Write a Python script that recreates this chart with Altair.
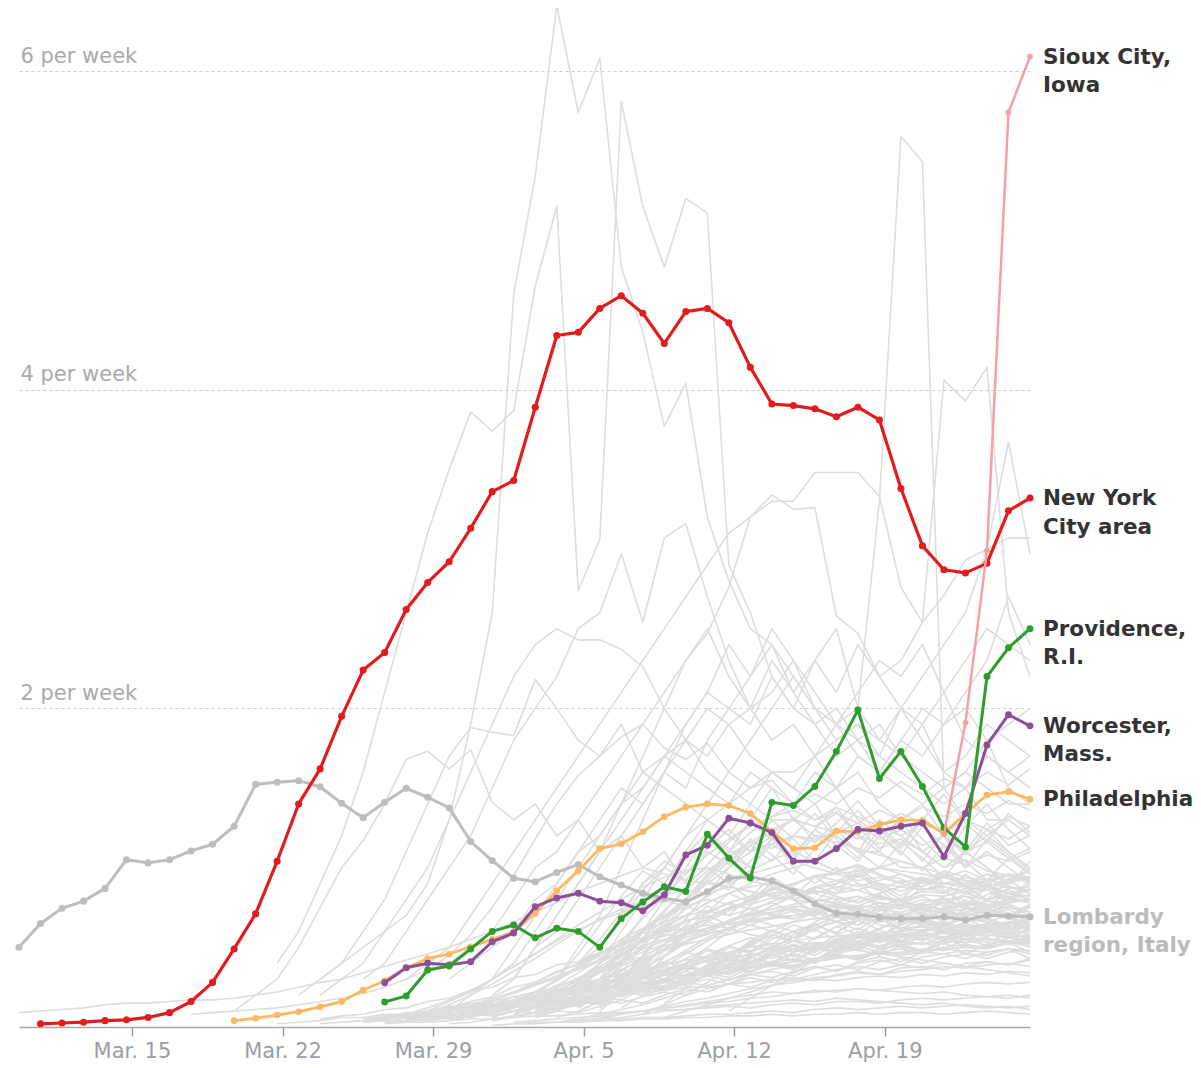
import altair as alt
import pandas as pd

# ---------------- data (all series end on the last day, Apr. 25 = day 47) -------------
LAST_DAY = 47
tick_days = [5.25, 12.25, 19.25, 26.25, 33.25, 40.25]
tick_labels = ["Mar. 15", "Mar. 22", "Mar. 29", "Apr. 5", "Apr. 12", "Apr. 19"]
grid_values = [2, 4, 6]

nyc = [0.02, 0.025, 0.03, 0.04, 0.045, 0.06, 0.09, 0.16, 0.28, 0.49,
       0.71, 1.04, 1.40, 1.62, 1.95, 2.24, 2.35, 2.62, 2.79, 2.92,
       3.13, 3.36, 3.43, 3.89, 4.34, 4.36, 4.51, 4.59, 4.48, 4.29,
       4.49, 4.51, 4.42, 4.14, 3.91, 3.90, 3.88, 3.83, 3.89, 3.81,
       3.38, 3.02, 2.87, 2.85, 2.91, 3.24, 3.32]
lombardy = [0.50, 0.65, 0.745, 0.79, 0.87, 1.05, 1.03, 1.05, 1.105, 1.147,
            1.26, 1.523, 1.536, 1.546, 1.508, 1.404, 1.314, 1.41, 1.498, 1.442,
            1.375, 1.164, 1.045, 0.933, 0.912, 0.97, 1.02, 0.943, 0.891, 0.839,
            0.808, 0.786, 0.849, 0.933, 0.943, 0.916, 0.854, 0.772, 0.714, 0.707,
            0.688, 0.68, 0.68, 0.692, 0.672, 0.701, 0.697, 0.692]
philadelphia = [0.04, 0.055, 0.075, 0.096, 0.127, 0.159, 0.232, 0.29, 0.37, 0.43,
                0.458, 0.504, 0.55, 0.598, 0.714, 0.855, 0.98, 1.12, 1.15, 1.226,
                1.32, 1.38, 1.40, 1.39, 1.34, 1.226, 1.12, 1.125, 1.23, 1.226,
                1.27, 1.30, 1.295, 1.216, 1.34, 1.456, 1.477, 1.43]
worcester = [0.278, 0.372, 0.40, 0.39, 0.41, 0.535, 0.59, 0.755, 0.81, 0.84,
             0.79, 0.78, 0.73, 0.83, 1.08, 1.14, 1.31, 1.28, 1.22, 1.04,
             1.04, 1.12, 1.24, 1.23, 1.26, 1.28, 1.07, 1.34, 1.77, 1.96, 1.89]
providence = [0.157, 0.195, 0.358, 0.383, 0.49, 0.60, 0.64, 0.56, 0.62, 0.60,
              0.50, 0.68, 0.785, 0.88, 0.85, 1.21, 1.06, 0.935, 1.41, 1.39,
              1.51, 1.73, 1.99, 1.56, 1.73, 1.51, 1.25, 1.13, 2.20, 2.38, 2.50]
sioux_city = [1.21, 1.91, 2.99, 5.74, 6.09]

# other metro areas (values in hundredths of a death per week, last value = Apr. 25)
gray_lines = [
    [30, 40, 50, 60, 70, 90, 130, 190, 260, 460, 534, 641, 574, 608, 477, 436, 377, 404, 320, 280,
     250, 240, 220, 200, 190, 180, 190, 170, 160, 150, 160, 150, 140, 140],
    [40, 60, 90, 120, 160, 210, 260, 310, 350, 386, 374, 387, 465, 515, 274, 306, 581, 515, 477, 520,
     511, 290, 260, 220, 200, 190, 200, 180, 170, 160, 150, 140, 150, 130, 130, 120],
    [30, 40, 50, 60, 80, 90, 110, 120, 140, 150, 170, 190, 210, 200, 220, 240, 210, 230, 250, 200,
     330, 559, 543, 150, 160, 180, 150, 140],
    [50, 60, 80, 100, 120, 140, 160, 150, 180, 200, 190, 220, 200, 230, 210, 240, 220, 230, 254, 406,
     393, 414, 260, 220],
    [40, 50, 70, 90, 100, 120, 130, 140, 150, 160, 160, 170, 180, 190, 180, 200, 220, 240, 260, 300,
     367, 297],
    [30, 40, 50, 70, 90, 110, 130, 150, 170, 190, 210, 230, 250, 270, 290, 310, 320, 330, 330, 348,
     348, 348, 333, 276, 254, 271, 293, 300, 307, 307],
    [40, 50, 60, 80, 100, 110, 130, 150, 170, 190, 210, 230, 247, 276, 320, 334, 325, 326, 258, 247,
     220, 200, 190, 210, 180, 170, 160, 170],
    [30, 40, 60, 80, 100, 120, 150, 180, 200, 220, 250, 260, 297, 254, 307, 316, 270, 230, 200, 180,
     190, 170, 150, 160, 140, 130, 140, 120, 110, 120, 110, 100],
    [20, 30, 40, 60, 80, 100, 130, 160, 190, 220, 240, 250, 243, 243, 237, 226, 200, 180, 160, 150,
     140, 130, 130, 120, 120, 110, 110, 100, 100, 90, 90, 90, 80, 80],
    [20, 30, 40, 60, 80, 110, 140, 170, 188, 185, 183, 218, 200, 180, 170, 190, 160, 150, 140, 130,
     120, 110, 120, 100, 90, 100, 90, 80, 80, 70, 70, 80, 70, 60, 70],
    [9, 10, 11, 12, 14, 15, 15, 16, 17, 17, 18, 20, 22, 25, 28, 30, 34, 38, 42, 46,
     50, 55, 60, 66, 72, 78, 85, 90, 95, 100, 96, 92, 90, 88, 85, 82, 80, 78, 75, 73,
     70, 68, 66, 64, 62, 60, 58, 56],
    [10, 20, 30, 50, 75, 100, 117, 140, 168, 173, 162, 174, 141, 130, 140, 120, 130, 110, 120, 100,
     110, 90, 100, 90, 80, 90, 80, 70, 80, 70, 70, 60, 70, 60, 60, 50, 60, 50],
    [8, 9, 10, 11, 12, 14, 16, 18, 21, 25, 30, 36, 45, 58, 75, 95, 118, 140, 158, 170,
     182, 190, 175, 168, 178, 160, 150, 155, 140, 130, 135, 120, 115, 118, 110, 100, 105, 98, 95, 92],
    [20, 30, 50, 70, 90, 110, 140, 170, 200, 230, 250, 220, 200, 230, 210, 190, 170, 180, 160, 150,
     140, 150, 130, 120, 130, 120],
    [20, 30, 50, 70, 100, 130, 160, 190, 210, 240, 220, 250, 230, 210, 190, 200, 180, 170, 190, 160,
     150, 170, 160, 150],
    [10, 20, 30, 50, 70, 90, 110, 130, 150, 140, 160, 180, 170, 190, 200, 210, 230, 200, 180, 190,
     170, 200, 180, 160, 170, 190, 180, 170],
    [20, 40, 60, 80, 100, 120, 140, 160, 180, 200, 220, 200, 190, 210, 230, 220, 240, 210, 230, 250,
     240, 230],
    [10, 20, 30, 50, 70, 90, 110, 130, 120, 140, 160, 150, 170, 190, 170, 160, 180, 200, 190, 210,
     230, 270, 240],
    [30, 50, 70, 90, 110, 130, 150, 170, 180, 200, 190, 170, 160, 150, 140, 150, 130, 120, 130, 110,
     100, 110, 100, 90, 100],
    [30, 40, 60, 80, 100, 120, 110, 130, 150, 140, 160, 150, 170, 160, 180, 170, 190, 200, 180, 190, 200],
    [20, 30, 40, 60, 80, 100, 120, 140, 160, 170, 160, 150, 140, 160, 150, 130, 140, 120, 110, 130,
     120, 110, 120, 100, 110, 100, 90],
    # lower, denser band
    [5, 7, 8, 11, 12, 16, 18, 23, 25, 31, 33, 39, 41, 47, 49, 55, 57, 61, 60, 65,
     64, 69, 68, 73, 69, 67, 71, 70, 75, 71, 69, 73, 75, 72],
    [4, 6, 7, 10, 12, 16, 19, 25, 28, 35, 39, 47, 51, 59, 61, 67, 69, 75, 77, 81,
     80, 85, 84, 86, 81, 79, 83, 82, 87, 86, 88, 84],
    [3, 5, 8, 10, 14, 17, 22, 25, 31, 34, 41, 44, 51, 53, 59, 61, 67, 69, 73, 72,
     77, 76, 81, 80, 85, 84, 89, 88, 93, 94],
    [3, 4, 6, 6, 9, 10, 13, 14, 17, 18, 22, 23, 28, 29, 34, 35, 40, 41, 45, 45,
     49, 49, 53, 53, 56, 55, 58, 57, 60, 59, 62, 61, 63],
    [5, 9, 12, 17, 20, 26, 30, 37, 41, 49, 54, 63, 67, 75, 79, 87, 89, 95, 97, 101,
     95, 93, 87, 85, 79, 77, 71, 70],
    [2, 3, 4, 6, 6, 8, 8, 10, 11, 12, 13, 15, 15, 17, 18, 20, 20, 22, 23, 25,
     25, 27, 28, 30, 29, 31, 32, 34, 33, 35, 36, 38, 37, 39, 40, 38],
    [10, 15, 22, 30, 38, 46, 55, 62, 70, 78, 85, 92, 98, 105, 110, 104, 98, 102, 96, 90,
     94, 88, 85, 89, 84, 80],
    [8, 14, 20, 28, 35, 44, 52, 60, 68, 74, 80, 86, 90, 95, 92, 88, 92, 96, 90, 94, 98, 92, 95, 90],
    [4, 6, 9, 12, 16, 20, 25, 30, 34, 39, 43, 48, 52, 55, 58, 61, 63, 66, 68, 70,
     68, 66, 69, 67, 65, 68, 66, 64, 66],
    [6, 9, 13, 18, 23, 29, 35, 41, 47, 52, 58, 62, 66, 70, 72, 74, 72, 76, 74, 78,
     76, 80, 78, 82, 80, 84, 82],
    [3, 4, 6, 8, 10, 13, 16, 19, 23, 26, 30, 33, 36, 39, 42, 44, 46, 48, 50, 49,
     51, 50, 52, 51, 53, 52, 54, 53, 55, 54, 56],
    [6, 10, 16, 22, 30, 38, 46, 54, 62, 70, 76, 82, 88, 92, 96, 100, 104, 100, 106, 102, 108, 104, 110],
    [8, 12, 18, 24, 30, 36, 42, 48, 54, 58, 62, 66, 68, 70, 72, 74, 76, 75, 77, 76, 78, 77, 79, 78, 80],
    [2, 3, 5, 7, 9, 11, 14, 17, 20, 23, 26, 29, 32, 35, 37, 39, 41, 43, 45, 44,
     46, 45, 47, 46, 48, 47, 49, 48],
    [10, 16, 24, 32, 40, 48, 56, 62, 68, 72, 76, 74, 78, 72, 76, 70, 74, 68, 72, 66, 70, 64],
    [12, 20, 30, 40, 50, 60, 68, 76, 82, 88, 84, 90, 86, 92, 88, 94, 90, 96, 92, 98],
    [5, 7, 10, 13, 17, 21, 26, 31, 36, 41, 46, 51, 55, 59, 62, 65, 67, 69, 70, 72,
     69, 70, 66, 68, 64, 66, 62, 65, 61, 63],
    [4, 6, 9, 13, 17, 22, 27, 32, 36, 40, 44, 47, 50, 52, 54, 56, 57, 58, 59, 60, 61, 60, 62, 61, 63, 62],
    [15, 22, 30, 38, 46, 54, 62, 70, 78, 84, 90, 96, 100, 104, 98, 94, 100, 96, 92, 98, 94, 90, 96, 92],
    [2, 3, 4, 5, 7, 8, 10, 11, 14, 15, 18, 19, 22, 23, 26, 27, 30, 31, 34, 35,
     38, 38, 41, 41, 44, 44, 47, 46, 49, 48, 51, 50, 53, 52],
    [20, 28, 37, 44, 53, 60, 67, 72, 79, 82, 87, 90, 95, 89, 85, 91, 95, 88, 86, 92, 93],
    [15, 24, 34, 44, 52, 60, 66, 72, 76, 80, 84, 88, 86, 90, 88, 92, 90, 94],
    [3, 5, 8, 11, 14, 18, 22, 26, 30, 33, 36, 39, 41, 43, 45, 46, 47, 48, 49, 50, 51, 52, 53],
    [8, 14, 20, 28, 36, 44, 50, 56, 62, 66, 70, 74, 72, 76, 74, 78, 76, 80, 78],
    [10, 18, 26, 34, 42, 50, 56, 62, 66, 70, 72, 74, 76, 78, 80],
    [8, 12, 16, 22, 28, 34, 40, 46, 52, 56, 60, 62, 64, 62, 58, 56, 54, 52, 50, 48,
     46, 44, 42, 40, 38, 36, 34, 32],
    [3, 4, 6, 8, 11, 14, 18, 22, 27, 32, 37, 42, 48, 54, 60, 66, 72, 78, 82, 86,
     90, 94, 96, 98, 100, 98, 96, 94, 92, 90, 88, 86],
    [30, 40, 50, 60, 70, 80, 90, 100, 110, 115, 120, 118, 116, 112, 108, 104, 100, 96, 92, 88, 84, 80],
    [4, 6, 9, 8, 12, 15, 14, 19, 22, 21, 27, 30, 29, 35, 38, 36, 42, 45, 43, 49, 51, 48, 54, 57, 53,
     58, 60, 56, 61, 63, 59, 64],
    [6, 9, 8, 13, 17, 15, 21, 26, 24, 31, 35, 32, 39, 44, 41, 47, 52, 48, 55, 58, 54, 61, 63, 59, 65,
     62, 66, 64],
    [10, 14, 13, 19, 24, 22, 29, 33, 30, 37, 42, 38, 45, 49, 44, 51, 55, 50, 56, 59, 54, 60, 57, 62,
     58, 61],
    [3, 5, 4, 7, 9, 8, 11, 14, 12, 16, 19, 17, 22, 25, 23, 27, 30, 27, 33, 35, 32, 37, 39, 36, 41,
     43, 40, 44, 46, 43, 47, 48],
    [12, 18, 16, 24, 30, 27, 35, 41, 37, 45, 51, 46, 55, 60, 55, 63, 67, 61, 70, 72, 66, 74, 75, 70, 77],
    [8, 11, 10, 15, 19, 17, 23, 27, 24, 30, 35, 31, 38, 42, 39, 45, 49, 45, 52, 54, 50, 57, 58, 54,
     60, 61, 57, 62],
    [20, 26, 24, 32, 38, 35, 43, 49, 45, 53, 58, 54, 62, 66, 61, 69, 72, 67, 74, 76, 71, 78, 80],
    [5, 8, 7, 11, 15, 13, 18, 23, 20, 26, 30, 27, 33, 37, 34, 40, 44, 40, 47, 50, 46, 52, 55, 51, 57,
     59, 55, 60, 62, 58],
    [15, 21, 19, 27, 33, 30, 38, 44, 40, 48, 54, 49, 58, 62, 57, 65, 69, 63, 72, 74, 69, 76],
    [9, 13, 12, 17, 22, 20, 26, 31, 28, 34, 39, 35, 42, 46, 43, 49, 53, 49, 56, 58, 54, 61, 62, 58,
     64, 65, 61],
    [25, 33, 30, 40, 48, 44, 54, 61, 56, 66, 72, 67, 76, 80, 74, 82, 85, 79, 87, 88],
    [4, 7, 6, 10, 13, 12, 16, 20, 18, 23, 27, 25, 30, 34, 31, 37, 40, 37, 43, 46, 42, 49, 51, 47, 53,
     55, 51, 56, 58],
    [7, 10, 9, 14, 18, 16, 21, 25, 23, 28, 32, 29, 35, 39, 36, 42, 46, 43, 49, 52, 48, 55, 57, 53,
     59, 60],
    [18, 24, 22, 30, 36, 33, 41, 47, 43, 51, 56, 52, 60, 64, 59, 67, 70, 65, 72, 74, 69, 75, 77, 72],
    [3, 4, 4, 6, 8, 7, 10, 12, 11, 14, 17, 15, 19, 22, 20, 24, 27, 25, 29, 31, 29, 33, 35, 33, 37,
     38, 36, 40, 41, 39, 43],
    [30, 38, 35, 45, 52, 48, 58, 64, 59, 69, 74, 68, 78, 81, 75, 83, 86, 80],
    [11, 16, 14, 21, 26, 24, 31, 36, 33, 40, 45, 41, 48, 52, 48, 55, 59, 55, 62, 64, 60, 66, 68],
    [6, 9, 8, 12, 16, 14, 19, 23, 21, 26, 30, 27, 33, 37, 34, 40, 43, 40, 46, 49, 45, 51, 53, 49,
     55, 56, 52, 57],
    [22, 28, 26, 34, 40, 37, 45, 51, 47, 55, 60, 56, 64, 68, 63, 70, 73, 68, 75],
    [8, 12, 11, 16, 21, 19, 25, 30, 27, 33, 38, 34, 41, 45, 42, 48, 51, 47, 54, 56, 52, 58, 60, 56, 61],
    [5, 7, 7, 10, 13, 12, 16, 19, 17, 21, 25, 23, 27, 31, 28, 33, 36, 33, 38, 41, 38, 43, 45, 42,
     47, 49, 46, 50, 52, 49, 53, 54],
    [14, 19, 17, 24, 29, 27, 33, 38, 35, 41, 46, 42, 49, 53, 49, 56, 59, 55, 61, 63, 59, 64],
    [35, 44, 41, 51, 58, 54, 64, 69, 64, 73, 77, 71, 80, 82, 76, 84, 86],
    [10, 15, 13, 20, 25, 23, 30, 35, 32, 39, 44, 40, 47, 51, 47, 54, 57, 53, 60, 62, 58, 64, 66, 62],
    [4, 6, 5, 8, 11, 10, 13, 16, 14, 18, 22, 20, 24, 28, 26, 30, 33, 31, 35, 38, 35, 40, 42, 39, 44,
     46, 43, 47, 49, 46],
    [16, 22, 20, 27, 33, 30, 37, 43, 39, 46, 51, 47, 54, 58, 54, 61, 64, 60, 66, 68, 64, 70],
    [28, 36, 34, 43, 51, 47, 56, 63, 58, 67, 72, 67, 75, 79, 74, 81, 83],
    [12, 17, 15, 22, 27, 25, 32, 37, 34, 41, 46, 42, 49, 53, 49, 56, 59, 55, 62, 63, 59, 65, 66],
    [7, 10, 9, 13, 17, 15, 20, 24, 22, 27, 31, 28, 34, 38, 35, 41, 44, 41, 47, 50, 46, 52, 54, 50],
    [40, 50, 47, 57, 64, 60, 70, 75, 70, 78, 82, 76, 84, 86, 80, 87],
    [2, 3, 3, 4, 5, 5, 6, 7, 7, 8, 9, 9, 10, 11, 11, 12, 13, 12, 14, 15, 14, 16, 16, 15, 17, 18, 17,
     18, 19, 18, 20],
    [3, 4, 5, 6, 7, 9, 10, 12, 13, 15, 16, 18, 19, 21, 22, 23, 24, 23, 25, 26, 25, 27, 28, 27, 28],
    [5, 8, 10, 13, 16, 18, 21, 24, 26, 28, 30, 29, 31, 32, 31, 33, 32, 34, 33, 35, 34],
    [6, 10, 14, 18, 22, 26, 30, 33, 36, 38, 36, 39, 37, 40, 38, 41, 39, 42],
    [2, 3, 3, 4, 4, 5, 6, 6, 7, 8, 8, 9, 10, 9, 11, 12, 11, 12, 13, 12, 13, 14, 13, 12, 13],
    [1, 2, 2, 3, 3, 4, 4, 5, 5, 6, 6, 7, 7, 8, 7, 8, 8, 9, 8, 9, 9, 8, 9, 10, 9, 8],
    [3, 5, 6, 8, 10, 11, 13, 14, 15, 16, 17, 16, 18, 17, 16, 15, 14, 15, 13, 12, 13, 11],
    [4, 6, 8, 10, 12, 14, 16, 18, 20, 22, 21, 23, 22, 24, 23, 22, 21, 22, 20, 19, 20, 18],
    [5, 10, 16, 22, 30, 38, 46, 55, 64, 72, 80, 88, 94, 98, 100, 96, 92, 88, 84, 80, 77, 74, 71, 68,
     65, 62, 60, 58, 56, 54],
    [8, 14, 20, 28, 36, 45, 54, 63, 70, 78, 84, 88, 90, 87, 84, 80, 82, 78, 75, 77, 73, 70, 72, 68, 66],
    [10, 18, 26, 35, 44, 54, 64, 74, 82, 90, 96, 100, 104, 100, 96, 92, 94, 90, 86, 88, 84, 80, 82, 78],
    [6, 10, 15, 21, 27, 34, 42, 50, 58, 66, 72, 78, 82, 84, 86, 84, 88, 86, 90, 88, 92, 90, 94, 92,
     96, 94],
    [5, 9, 14, 20, 27, 35, 43, 52, 60, 68, 74, 79, 83, 86, 84, 88, 85, 82, 86, 80, 78, 82, 76, 74, 78,
     72, 70, 74, 68, 66],
    [4, 7, 11, 16, 22, 29, 37, 45, 53, 60, 66, 70, 73, 70, 74, 71, 68, 72, 66, 64, 68, 62, 60, 64, 58,
     57, 60, 55],
    [8, 13, 19, 26, 34, 43, 52, 61, 69, 76, 71, 78, 74, 70, 75, 69, 66, 71, 64, 62, 67, 60, 58, 63,
     56, 55],
    [6, 10, 15, 21, 28, 36, 45, 54, 62, 58, 64, 60, 56, 61, 55, 52, 57, 50, 48, 53, 46, 45, 49, 43],
    [10, 16, 23, 31, 40, 49, 58, 66, 73, 79, 84, 80, 86, 82, 78, 83, 76, 73, 78, 71, 69, 74, 67],
    [3, 5, 8, 12, 17, 23, 30, 38, 46, 54, 61, 67, 72, 76, 79, 76, 80, 77, 74, 78, 72, 70, 74, 68, 67,
     71, 65, 64, 68, 62, 61, 64],
    [12, 20, 29, 39, 49, 58, 66, 62, 68, 64, 60, 65, 58, 56, 61, 54, 52, 57, 50, 49, 53, 47],
    [7, 12, 18, 25, 33, 41, 49, 56, 62, 67, 71, 74, 77, 79, 81, 78, 82, 79, 76, 80, 74, 72, 76, 70],
    [20, 34, 48, 60, 72, 84, 78, 90, 82, 94, 86, 98, 88, 80, 92, 84, 96, 86, 78, 90],
    [30, 44, 58, 70, 64, 76, 88, 80, 72, 84, 96, 86, 76, 88, 98, 88, 80, 92, 84],
    [12, 24, 38, 52, 64, 76, 70, 82, 94, 86, 78, 90, 100, 90, 82, 94, 86, 76, 88, 80, 92],
    # middle band
    [20, 30, 42, 55, 68, 80, 92, 104, 114, 122, 130, 126, 134, 128, 136, 130, 138, 132, 140, 134,
     142, 136],
    [15, 24, 35, 47, 60, 73, 86, 98, 108, 116, 112, 120, 116, 124, 118, 126, 120, 128, 122, 130,
     124, 132, 126],
    [25, 38, 52, 66, 80, 94, 106, 116, 124, 130, 126, 122, 128, 118, 124, 114, 120, 110, 116, 106, 112],
    [10, 18, 28, 40, 54, 68, 82, 96, 108, 118, 126, 132, 136, 130, 138, 132, 126, 134, 128, 122, 130,
     124, 118, 126],
    [30, 45, 62, 80, 96, 110, 122, 132, 140, 146, 140, 150, 144, 154, 146, 156, 150, 160, 152, 162],
    [20, 35, 50, 66, 80, 95, 108, 100, 115, 105, 120, 110, 126, 112, 118, 104, 122, 110, 128, 114, 120],
    [40, 55, 72, 90, 104, 96, 112, 124, 110, 130, 118, 104, 122, 136, 120, 108, 126, 114, 100, 118,
     108, 96],
    [15, 28, 44, 60, 76, 92, 86, 104, 118, 106, 124, 138, 120, 110, 132, 118, 104, 126, 140, 124, 112],
    [30, 46, 64, 82, 98, 90, 108, 122, 112, 100, 118, 132, 116, 128, 142, 126, 114, 132, 120, 108,
     124, 110, 98],
    [10, 22, 36, 52, 68, 84, 100, 114, 104, 120, 134, 118, 106, 124, 112, 130, 146, 128, 116, 134, 122],
    [50, 68, 86, 100, 92, 110, 102, 118, 108, 96, 112, 124, 110, 100, 116, 106, 94, 110, 100, 88, 104],
    [25, 40, 56, 72, 88, 102, 116, 128, 118, 108, 124, 114, 104, 120, 110, 98, 114, 104, 92, 106, 96],
]

# highlighted series, drawn in this order (bottom to top)
highlights = [
    # name, values, colour, label, label colour, line width, point size
    ("Lombardy", lombardy, "#bdbdbd", "Lombardy\nregion, Italy", "#bbbbbb", 3, 50),
    ("Philadelphia", philadelphia, "#fdb862", "Philadelphia", "#333333", 2.8, 44),
    ("Worcester", worcester, "#8e4f99", "Worcester,\nMass.", "#333333", 3, 48),
    ("Providence", providence, "#2e9d2e", "Providence,\nR.I.", "#333333", 3, 48),
    ("New York", nyc, "#e21c1c", "New York\nCity area", "#333333", 3.2, 50),
    ("Sioux City", sioux_city, "#f7a0a0", "Sioux City,\nIowa", "#333333", 2.5, 32),
]

# ---------------- tables ----------------
gray_rows = []
for i, vals in enumerate(gray_lines):
    start = LAST_DAY - len(vals) + 1
    for j, v in enumerate(vals):
        gray_rows.append({"series": f"g{i}", "day": start + j, "value": v / 100})
gray_df = pd.DataFrame(gray_rows)

FONT = "DejaVu Sans"
label_expr = "[" + ",".join(f"'{t}'" for t in tick_labels) + f"][round((datum.value - {tick_days[0]}) / 7)]"

X = alt.X("day:Q",
          scale=alt.Scale(domain=[0, LAST_DAY], nice=False, zero=False),
          axis=alt.Axis(values=tick_days, labelExpr=label_expr, title=None, grid=False,
                        tickSize=9, tickColor="#9a9a9a", tickWidth=1.5,
                        domainColor="#a8a8a8", domainWidth=1.5,
                        labelFont=FONT, labelFontSize=21, labelColor="#9a9ea6",
                        labelPadding=4, labelOverlap=False))
Y = alt.Y("value:Q",
          scale=alt.Scale(domain=[0, 6.383], nice=False, zero=True),
          axis=alt.Axis(values=grid_values, labelExpr="datum.value + ' per week'", title=None,
                        grid=True, gridDash=[3, 3], gridColor="#cccccc", gridWidth=1,
                        domain=False, ticks=False, tickSize=0,
                        labelAlign="left", labelBaseline="alphabetic", labelPadding=-1,
                        labelOffset=-9, labelFont=FONT, labelFontSize=21,
                        labelColor="#aaaaaa", labelOverlap=False))

layers = [
    alt.Chart(gray_df).mark_line(color="#dddddd", strokeWidth=1.6, strokeJoin="round").encode(
        x=X, y=Y, detail="series:N")
]

label_rows = []
for name, vals, colour, label, lab_col, lw, size in highlights:
    start = LAST_DAY - len(vals) + 1
    df = pd.DataFrame({"day": [start + j for j in range(len(vals))], "value": vals})
    base = alt.Chart(df).encode(x=X, y=Y)
    layers.append(base.mark_line(color=colour, strokeWidth=lw, strokeJoin="round"))
    layers.append(base.mark_circle(color=colour, size=size, opacity=1))
    label_rows.append({"day": LAST_DAY, "value": vals[-1], "label": label, "col": lab_col})

labels_df = pd.DataFrame(label_rows)
layers.append(
    alt.Chart(labels_df).mark_text(align="left", baseline="top", dx=13, dy=-10, font=FONT,
                                   fontWeight="bold", fontSize=21.5, lineHeight=28.5,
                                   lineBreak="\n").encode(
        x=X, y=Y, text="label:N", color=alt.Color("col:N", scale=None))
)

chart = alt.layer(*layers).properties(
    width=1011, height=1017,
    padding={"left": 11, "top": 2, "right": 163, "bottom": 35},
    autosize=alt.AutoSizeParams(type="none"),
).configure_view(stroke=None)

chart.save("out.html", embed_options={"renderer": "svg", "actions": False})
